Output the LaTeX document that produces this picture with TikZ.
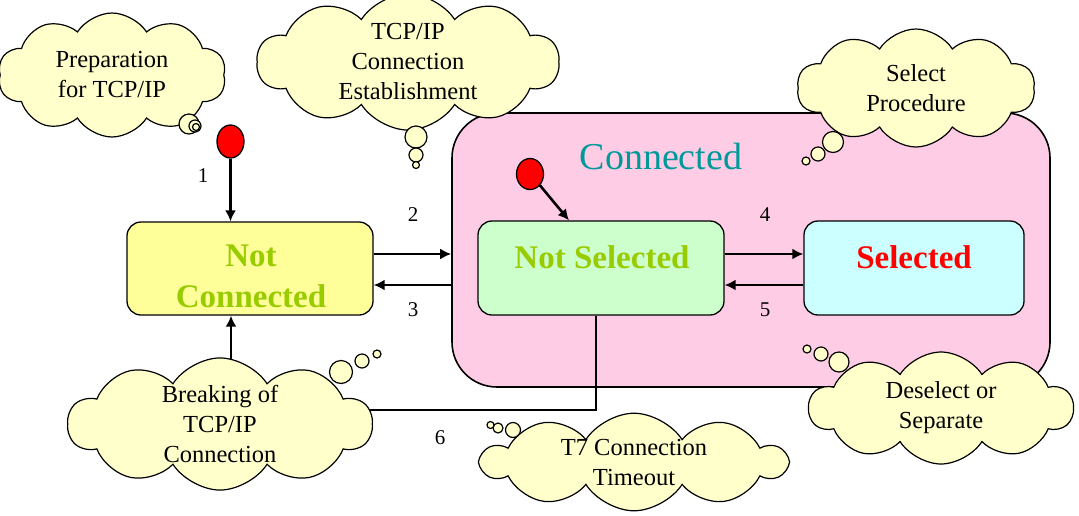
\documentclass[tikz,border=0pt]{standalone}
\usepackage{fontspec}
\setmainfont{Liberation Serif}
\usetikzlibrary{shapes.symbols,shapes.geometric,arrows.meta}
\definecolor{cloudfill}{HTML}{FFFFCC}
\definecolor{pinkfill}{HTML}{FFCCE6}
\definecolor{ncfill}{HTML}{FFFF99}
\definecolor{nsfill}{HTML}{CCFFCC}
\definecolor{sfill}{HTML}{CCFFFF}
\definecolor{textgreen}{HTML}{99CC00}
\definecolor{tealtext}{HTML}{009999}
\begin{document}
\begin{tikzpicture}[x=1pt,y=-1pt,
  thought/.style={cloud, draw=black, line width=1.2pt, fill=cloudfill,
    cloud puffs=10, cloud puff arc=115, cloud ignores aspect, inner sep=0pt,
    align=center, font=\fontsize{24.5}{30}\selectfont},
  bubble/.style={draw=black, line width=1.2pt, fill=cloudfill},
  statebox/.style={draw=black, line width=1.3pt, rounded corners=14pt, inner sep=0pt},
  boldtxt/.style={font=\fontsize{33}{41}\selectfont\bfseries, align=center},
  num/.style={font=\fontsize{21}{25}\selectfont},
  arr/.style={line width=2.6pt, -{Latex[length=11pt,width=11pt]}},
  dot/.style={ellipse, draw=black, line width=1.3pt, fill=red, inner sep=0pt}
]
\useasboundingbox (0,0) rectangle (1079,515);

% composite state
\node[draw=black, line width=1.6pt, fill=pinkfill, rounded corners=45pt,
  minimum width=598pt, minimum height=274pt] (CN) at (751,250) {};
\node[font=\fontsize{38}{44}\selectfont, text=tealtext] (CNlab) at (661,156) {Connected};

% states
\node[statebox, fill=ncfill, minimum width=246pt, minimum height=93pt] (NC) at (250,268.5) {};
\node[boldtxt, text=textgreen] (NCt) at (251,276) {Not\\Connected};
\node[statebox, fill=nsfill, minimum width=246pt, minimum height=94pt] (NS) at (601,268) {};
\node[boldtxt, text=textgreen] (NSt) at (602,257) {Not Selected};
\node[statebox, fill=sfill, minimum width=220pt, minimum height=94pt] (S) at (914,268) {};
\node[boldtxt, text=red] (St) at (914,257) {Selected};

% initial dots
\node[dot, minimum width=27pt, minimum height=33pt] (i1) at (230.5,141.5) {};
\node[dot, minimum width=27pt, minimum height=31pt] (i2) at (530,174) {};

\coordinate (r2) at (0,254);
\coordinate (r3) at (0,285);
\coordinate (c1) at (231,0);
\coordinate (c6) at (596,410);

\draw[arr] (i1.south) -- (i1.south |- NC.north);
\draw[arr] (i2.south east) -- ([xshift=-32pt]NS.north);
\draw[arr] (NC.east |- r2) -- (CN.west |- r2);
\draw[arr] (CN.west |- r3) -- (NC.east |- r3);
\draw[arr] (NS.east |- r2) -- (S.west |- r2);
\draw[arr] (S.west |- r3) -- (NS.east |- r3);
\draw[arr] (c6 |- NS.south) -- (c6) -- (c1 |- c6) -- (c1 |- NC.south);

% labels
\node[num] (n1) at (203,176) {1};
\node[num] (n2) at (413,215) {2};
\node[num] (n3) at (413,310) {3};
\node[num] (n4) at (765,215) {4};
\node[num] (n5) at (765,310) {5};
\node[num] (n6) at (440,438) {6};

% thought clouds
\node[thought, minimum width=228pt, minimum height=124pt] (tp) at (112,75) {Preparation\\for TCP/IP};
\draw[bubble] (189,124) circle[radius=10pt];
\draw[bubble] (195,126) circle[radius=6pt];
\draw[bubble] (196,127) circle[radius=3.5pt];

\node[thought, minimum width=302pt, minimum height=128pt] (tc) at (408,62) {TCP/IP\\Connection\\Establishment};
\draw[bubble] (416,137) circle[radius=11pt];
\draw[bubble] (416,155) circle[radius=7pt];
\draw[bubble] (416,165) circle[radius=3.5pt];

\node[thought, minimum width=238pt, minimum height=118pt] (ts) at (916,88) {Select\\Procedure};
\draw[bubble] (833,142) circle[radius=10.5pt];
\draw[bubble] (818,154) circle[radius=7pt];
\draw[bubble] (806,161) circle[radius=4pt];

\node[thought, minimum width=264pt, minimum height=112pt] (td) at (941,408) {Deselect or\\Separate};
\draw[bubble] (839,362) circle[radius=10pt];
\draw[bubble] (821,354) circle[radius=7pt];
\draw[bubble] (807,349) circle[radius=4pt];

\node[thought, minimum width=304pt, minimum height=132pt] (tb) at (220,424) {Breaking of\\TCP/IP\\Connection};
\draw[bubble] (341,372) circle[radius=11.5pt];
\draw[bubble] (362,361) circle[radius=7pt];
\draw[bubble] (377,354) circle[radius=4pt];

\node[thought, minimum width=304pt, minimum height=88pt] (tt) at (634,462) {T7 Connection\\Timeout};
\draw[bubble] (513,430) circle[radius=7.5pt];
\draw[bubble] (498,428) circle[radius=5pt];
\draw[bubble] (490.5,425) circle[radius=3.5pt];
\end{tikzpicture}
\end{document}
